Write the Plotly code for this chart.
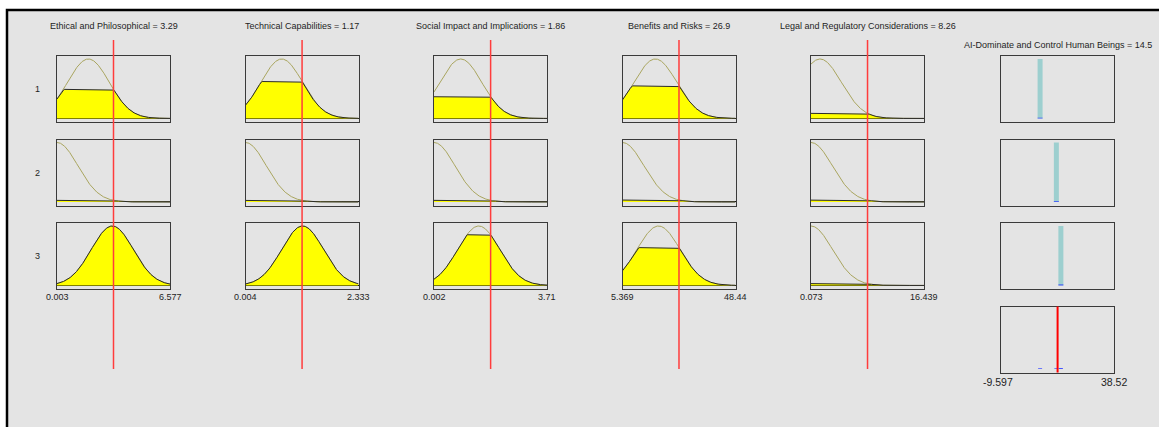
import numpy as np
import plotly.graph_objects as go

# ---------------- data ----------------
input_names = [
    "Ethical and Philosophical",
    "Technical Capabilities",
    "Social Impact and Implications",
    "Benefits and Risks",
    "Legal and Regulatory Considerations",
]
input_ranges = [(0.003, 6.577), (0.004, 2.333), (0.002, 3.71), (5.369, 48.44), (0.073, 16.439)]
input_values = [3.29, 1.17, 1.86, 26.9, 8.26]

# Gaussian membership functions used by rules 1..3 (centre per rule, one width per input)
mf_centers = [
    [1.83, 0.003, 3.22],
    [0.75, 0.004, 1.18],
    [0.88, 0.002, 1.47],
    [17.9, 5.369, 19.1],
    [1.38, 0.073, 0.073],
]
mf_sigmas = [1.22, 0.43, 0.69, 8.2, 3.1]

output_name = "AI-Dominate and Control Human Beings"
output_range = (-9.597, 38.52)
output_value = 14.5
rule_outputs = [7.05, 13.98, 15.9]
rule_labels = ["1", "2", "3"]

# ---------------- layout (pixels) ----------------
W, H = 1159, 427
col_left = [57, 245.5, 434, 622.5, 811]
out_left = 1001
box_w = 113
row_top = [56, 139.5, 223, 306.5]
box_h = 66
y_range = [-0.06, 1.05]

PANEL = "#e4e4e4"
OLIVE = "#a9a55f"
EDGE = "#2a2a2a"
BOXLINE = "#3a3a3a"
TEXT = "#1e1e1e"
MARKER = "#ff3c3c"
FONT = "Liberation Sans, Arial, sans-serif"


def px(x):
    return x / W


def py(y):
    return 1 - y / H


def gauss(x, c, s):
    return np.exp(-((x - c) ** 2) / (2 * s ** 2))


fig = go.Figure()
layout_axes = {}


def add_axes(k, left, top, xr, zeroline=True):
    sx = "" if k == 1 else str(k)
    layout_axes["xaxis" + sx] = dict(
        domain=[px(left), px(left + box_w)], range=list(xr), anchor="y" + sx,
        showticklabels=False, ticks="", showgrid=False, zeroline=False,
        showline=True, mirror=True, linecolor=BOXLINE, linewidth=1, fixedrange=True,
    )
    layout_axes["yaxis" + sx] = dict(
        domain=[py(top + box_h), py(top)], range=y_range, anchor="x" + sx,
        showticklabels=False, ticks="", showgrid=False,
        zeroline=zeroline, zerolinecolor="#000000", zerolinewidth=1,
        showline=True, mirror=True, linecolor=BOXLINE, linewidth=1, fixedrange=True,
    )
    return "x" + sx, "y" + sx


shapes = []
annotations = []

# background panel
shapes.append(dict(type="rect", xref="paper", yref="paper", layer="below",
                   x0=px(7), x1=px(W + 20), y0=py(10), y1=py(H + 20),
                   fillcolor=PANEL, line=dict(color="#000000", width=2.5)))

# rule firing strengths (product of input memberships)
weights = np.ones(3)

k = 0
for i, (name, (lo, hi), v) in enumerate(zip(input_names, input_ranges, input_values)):
    xs = np.linspace(lo, hi, 400)
    first_axis = None
    for r in range(3):
        k += 1
        xa, ya = add_axes(k, col_left[i], row_top[r], (lo, hi))
        if first_axis is None:
            first_axis = xa
        c, s = mf_centers[i][r], mf_sigmas[i]
        mf = gauss(xs, c, s)
        deg = gauss(v, c, s)
        weights[r] *= deg
        fig.add_trace(go.Scatter(x=xs, y=mf, mode="lines", xaxis=xa, yaxis=ya,
                                 line=dict(color=OLIVE, width=1), hoverinfo="skip",
                                 showlegend=False))
        fig.add_trace(go.Scatter(x=xs, y=np.minimum(mf, deg), mode="lines", xaxis=xa, yaxis=ya,
                                 fill="tozeroy", fillcolor="#ffff00",
                                 line=dict(color=EDGE, width=1), hoverinfo="skip",
                                 showlegend=False))
    # input value marker
    shapes.append(dict(type="line", xref=first_axis, yref="paper", x0=v, x1=v,
                       y0=py(369), y1=py(40), layer="above",
                       line=dict(color=MARKER, width=1.5)))
    # title and range labels
    annotations.append(dict(text=f"{name} = {v:.3g}", xref="paper", yref="paper",
                            x=px(col_left[i] + box_w / 2), y=py(26), showarrow=False,
                            xanchor="center", yanchor="middle",
                            font=dict(size=9, color=TEXT, family=FONT)))
    annotations.append(dict(text=f"{lo:g}", xref="paper", yref="paper",
                            x=px(col_left[i]), y=py(297), showarrow=False,
                            xanchor="center", yanchor="middle",
                            font=dict(size=9, color=TEXT, family=FONT)))
    annotations.append(dict(text=f"{hi:g}", xref="paper", yref="paper",
                            x=px(col_left[i] + box_w), y=py(297), showarrow=False,
                            xanchor="center", yanchor="middle",
                            font=dict(size=9, color=TEXT, family=FONT)))

# output column: one box per rule
for r in range(3):
    k += 1
    xa, ya = add_axes(k, out_left, row_top[r], output_range, zeroline=False)
    o = rule_outputs[r]
    fig.add_trace(go.Scatter(x=[o, o], y=[0, 1], mode="lines", xaxis=xa, yaxis=ya,
                             line=dict(color="#9dcfcf", width=5), hoverinfo="skip",
                             showlegend=False))
    fig.add_trace(go.Scatter(x=[o, o], y=[0, max(weights[r], 0.012)], mode="lines",
                             xaxis=xa, yaxis=ya,
                             line=dict(color="#3344ff", width=5), hoverinfo="skip",
                             showlegend=False))

# aggregated output
k += 1
xa, ya = add_axes(k, out_left, row_top[3], output_range, zeroline=False)
for r in range(3):
    o = rule_outputs[r]
    fig.add_trace(go.Scatter(x=[o, o], y=[0, max(weights[r], 0.012)], mode="lines",
                             xaxis=xa, yaxis=ya,
                             line=dict(color="#4455ff", width=4), hoverinfo="skip",
                             showlegend=False))
shapes.append(dict(type="line", xref=xa, yref=ya + " domain", x0=output_value, x1=output_value,
                   y0=0, y1=1, line=dict(color="rgb(255,0,0)", width=2)))

annotations.append(dict(text=f"{output_name} = {output_value:.3g}", xref="paper", yref="paper",
                        x=px(out_left + box_w / 2), y=py(45), showarrow=False,
                        xanchor="center", yanchor="middle",
                        font=dict(size=9, color=TEXT, family=FONT)))
annotations.append(dict(text=f"{output_range[0]:g}", xref="paper", yref="paper",
                        x=px(out_left - 3), y=py(382), showarrow=False,
                        xanchor="center", yanchor="middle",
                        font=dict(size=10.5, color=TEXT, family=FONT)))
annotations.append(dict(text=f"{output_range[1]:g}", xref="paper", yref="paper",
                        x=px(out_left + box_w), y=py(382), showarrow=False,
                        xanchor="center", yanchor="middle",
                        font=dict(size=10.5, color=TEXT, family=FONT)))

# rule numbers
for r, lab in enumerate(rule_labels):
    annotations.append(dict(text=lab, xref="paper", yref="paper",
                            x=px(37), y=py(row_top[r] + 33), showarrow=False,
                            xanchor="center", yanchor="middle",
                            font=dict(size=9, color=TEXT, family=FONT)))

fig.update_layout(
    width=W, height=H, margin=dict(l=0, r=0, t=0, b=0, pad=0),
    paper_bgcolor="#ffffff", plot_bgcolor="#ffffff",
    shapes=shapes, annotations=annotations, showlegend=False,
    **layout_axes,
)

fig.write_html("out.html")
